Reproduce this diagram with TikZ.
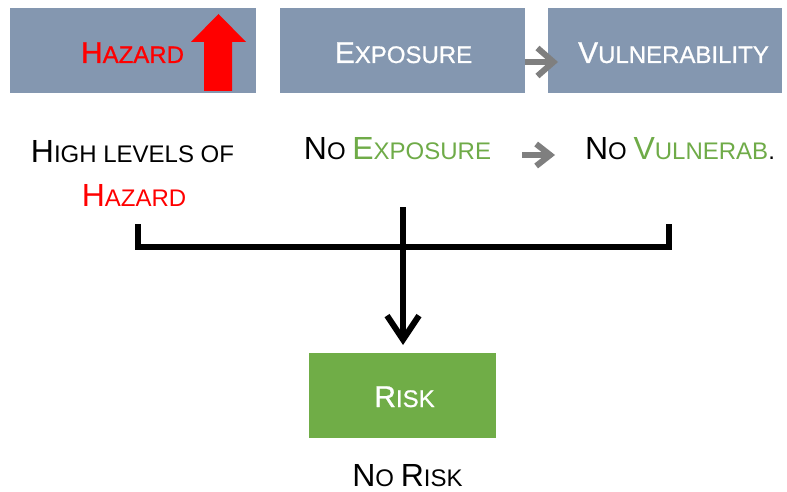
\documentclass[tikz,border=0pt]{standalone}
\usepackage{fontspec}
\setmainfont{Liberation Sans}
\newfontfamily\boxfont[FakeBold=0.8]{Liberation Sans}
\usetikzlibrary{arrows.meta}
\definecolor{slate}{HTML}{8497B0}
\definecolor{riskgreen}{HTML}{70AD47}
\definecolor{txtgreen}{HTML}{6FAB48}
\definecolor{arrgrey}{HTML}{7F7F7F}
\newcommand\bsc[2]{{\boxfont\fontsize{30}{30}\selectfont #1}{\boxfont\fontsize{24}{24}\selectfont #2}}
\newcommand\lsc[2]{{\fontsize{32}{32}\selectfont #1}{\fontsize{24}{24}\selectfont #2}}
\tikzset{
  box/.style={draw=none, minimum height=85pt, inner sep=0pt},
  lbl/.style={anchor=base, inner sep=0pt, font=\fontsize{24}{24}\selectfont},
  greyarr/.style={draw=arrgrey, line width=6pt, -{Straight Barb[length=14pt,width=22pt]}},
  bracket/.style={draw=black, line width=6pt},
}
\begin{document}
\begin{tikzpicture}[x=1pt,y=-1pt]
\useasboundingbox (0,0) rectangle (787,492);
% top boxes
\node[box, fill=slate, minimum width=246pt] (hzbox) at (133,50.5) {};
\node[box, fill=slate, minimum width=245pt] (exbox) at (402.5,50.5) {};
\node[box, fill=slate, minimum width=234pt] (vubox) at (665,50.5) {};
\node[box, fill=riskgreen, minimum width=187pt] (riskbox) at (402.5,395.5) {};
% box labels
\node[lbl, text=red] (hzt) at (132.5,63) {\bsc{H}{AZARD}};
\node[lbl, text=white] (ext) at (403.5,63) {\bsc{E}{XPOSURE}};
\node[lbl, text=white] (vut) at (673.5,63) {\bsc{V}{ULNERABILITY}};
\node[lbl, text=white] (rkt) at (404.5,407) {\bsc{R}{ISK}};
% red up arrow
\fill[red] (204,91) -- (204,42) -- (191,42) -- (218.5,14) -- (246,42) -- (232,42) -- (232,91) -- cycle;
% grey arrows
\coordinate (ga1) at (525,62);
\coordinate (ga2) at (558,62);
\draw[greyarr, -{Straight Barb[length=16pt,width=28pt]}] (ga1) -- (ga2);
\coordinate (gb1) at (522,155);
\coordinate (gb2) at (555,155);
\draw[greyarr] (gb1) -- (gb2);
% lower texts
\node[lbl] (hl) at (132.5,163) {\lsc{H}{IGH LEVELS OF}};
\node[lbl, text=red] (hz2) at (134,206) {\lsc{H}{AZARD}};
\node[lbl] (noex) at (397.5,160) {\lsc{N}{O} \textcolor{txtgreen}{\lsc{E}{XPOSURE}}};
\node[lbl] (novu) at (680,160) {\lsc{N}{O} \textcolor{txtgreen}{\lsc{V}{ULNERAB}}.};
\node[lbl] (nork) at (407.5,486) {\lsc{N}{O} \lsc{R}{ISK}};
% bracket
\coordinate (bl) at (138,224);
\coordinate (blc) at (138,247);
\coordinate (brc) at (669,247);
\coordinate (br) at (669,224);
\draw[bracket, line join=miter] (bl) -- (blc) -- (brc) -- (br);
\coordinate (ctop) at (403,207);
\coordinate (ctip) at (403,345);
\draw[bracket, -{Straight Barb[length=24pt,width=32pt]}] (ctop) -- (ctip);
\end{tikzpicture}
\end{document}
